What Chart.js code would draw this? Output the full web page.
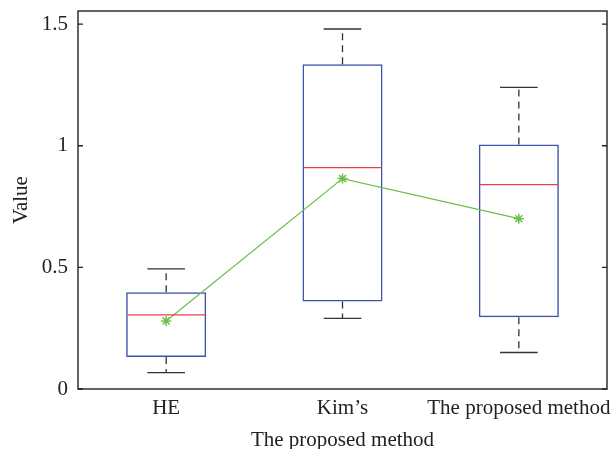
<html>
  <head>
    <title>Box plot</title>
    <style>
      body { margin: 0; background: #fff; }
    </style>
  </head>
  <body>
    <canvas id="chart-box" width="614" height="449"></canvas>

    <script src="https://cdn.jsdelivr.net/npm/chart.js@4"></script>
    <script type="text/javascript">
      const categories = ['HE', 'Kim\u2019s', 'The proposed method'];
      const whiskerLow = [0.067, 0.29, 0.15];
      const boxLow = [0.132, 0.36, 0.295];
      const medians = [0.305, 0.91, 0.84];
      const boxHigh = [0.398, 1.335, 1.005];
      const whiskerHigh = [0.494, 1.48, 1.24];
      const means = [0.28, 0.865, 0.70];
      const yTicks = [0, 0.5, 1, 1.5];

      const font = 'Liberation Serif';

      // whiskers, medians, frame and inward ticks
      const boxExtras = {
        id: 'boxExtras',
        afterDatasetsDraw(chart) {
          const { ctx, chartArea, scales } = chart;
          const x = scales.x;
          const y = scales.y;
          const barMeta = chart.getDatasetMeta(0);
          ctx.save();
          categories.forEach((c, i) => {
            const cx = x.getPixelForValue(i);
            const half = barMeta.data[i].width / 2;
            const cap = half * 0.47;
            // dashed whiskers
            ctx.strokeStyle = '#333';
            ctx.lineWidth = 1.3;
            ctx.setLineDash([7, 5]);
            ctx.beginPath();
            ctx.moveTo(cx, y.getPixelForValue(boxHigh[i]));
            ctx.lineTo(cx, y.getPixelForValue(whiskerHigh[i]));
            ctx.moveTo(cx, y.getPixelForValue(boxLow[i]));
            ctx.lineTo(cx, y.getPixelForValue(whiskerLow[i]));
            ctx.stroke();
            ctx.setLineDash([]);
            ctx.beginPath();
            ctx.moveTo(cx - cap, y.getPixelForValue(whiskerHigh[i]));
            ctx.lineTo(cx + cap, y.getPixelForValue(whiskerHigh[i]));
            ctx.moveTo(cx - cap, y.getPixelForValue(whiskerLow[i]));
            ctx.lineTo(cx + cap, y.getPixelForValue(whiskerLow[i]));
            ctx.stroke();
            // median
            ctx.strokeStyle = '#e8414b';
            ctx.lineWidth = 1.3;
            ctx.beginPath();
            ctx.moveTo(cx - half + 1, y.getPixelForValue(medians[i]));
            ctx.lineTo(cx + half - 1, y.getPixelForValue(medians[i]));
            ctx.stroke();
          });
          // frame
          ctx.strokeStyle = '#222';
          ctx.lineWidth = 1.4;
          ctx.strokeRect(chartArea.left, chartArea.top, chartArea.right - chartArea.left, chartArea.bottom - chartArea.top);
          y.ticks.forEach((t) => {
            const py = y.getPixelForValue(t.value);
            ctx.beginPath();
            ctx.moveTo(chartArea.left, py);
            ctx.lineTo(chartArea.left + 5, py);
            ctx.moveTo(chartArea.right, py);
            ctx.lineTo(chartArea.right - 5, py);
            ctx.stroke();
          });
          ctx.restore();
        },
      };

      new Chart(document.getElementById('chart-box'), {
        data: {
          labels: categories,
          datasets: [
            {
              type: 'bar',
              data: categories.map((c, i) => [boxLow[i], boxHigh[i]]),
              backgroundColor: 'rgba(0,0,0,0)',
              borderColor: '#3f53ad',
              borderWidth: 1.5,
              borderSkipped: false,
              categoryPercentage: 1,
              barPercentage: 0.454,
              order: 2,
            },
            {
              type: 'line',
              data: means,
              borderColor: '#6cc04a',
              borderWidth: 1.3,
              pointStyle: 'star',
              pointRadius: 5,
              pointBorderColor: '#6cc04a',
              pointBorderWidth: 1.5,
              order: 1,
            },
          ],
        },
        options: {
          responsive: false,
          animation: false,
          layout: { padding: { left: 0, right: 7, top: 11, bottom: 0 } },
          plugins: { legend: { display: false }, tooltip: { enabled: false } },
          scales: {
            x: {
              offset: true,
              grid: { display: false, drawTicks: false },
              border: { display: false },
              ticks: { color: '#222', font: { family: font, size: 21 }, padding: 7, maxRotation: 0, autoSkip: false },
              title: { display: true, text: 'The proposed method', color: '#222', font: { family: font, size: 21 }, padding: { top: 0, bottom: -4 } },
              afterFit: (s) => {
                s.height = 60;
                s.paddingLeft = 0;
                s.paddingRight = 0;
              },
            },
            y: {
              min: 0,
              max: 1.554,
              grid: { display: false, drawTicks: false },
              border: { display: false },
              afterBuildTicks: (s) => {
                s.ticks = yTicks.map((v) => ({ value: v }));
              },
              ticks: { color: '#222', font: { family: font, size: 21 }, padding: 10, callback: (v) => String(v) },
              title: { display: true, text: 'Value', color: '#222', font: { family: font, size: 21 }, padding: { top: 9, bottom: 0 } },
              afterFit: (s) => {
                s.width = 78;
                s.paddingTop = 0;
                s.paddingBottom = 0;
              },
            },
          },
        },
        plugins: [boxExtras],
      });
    </script>
  </body>
</html>
